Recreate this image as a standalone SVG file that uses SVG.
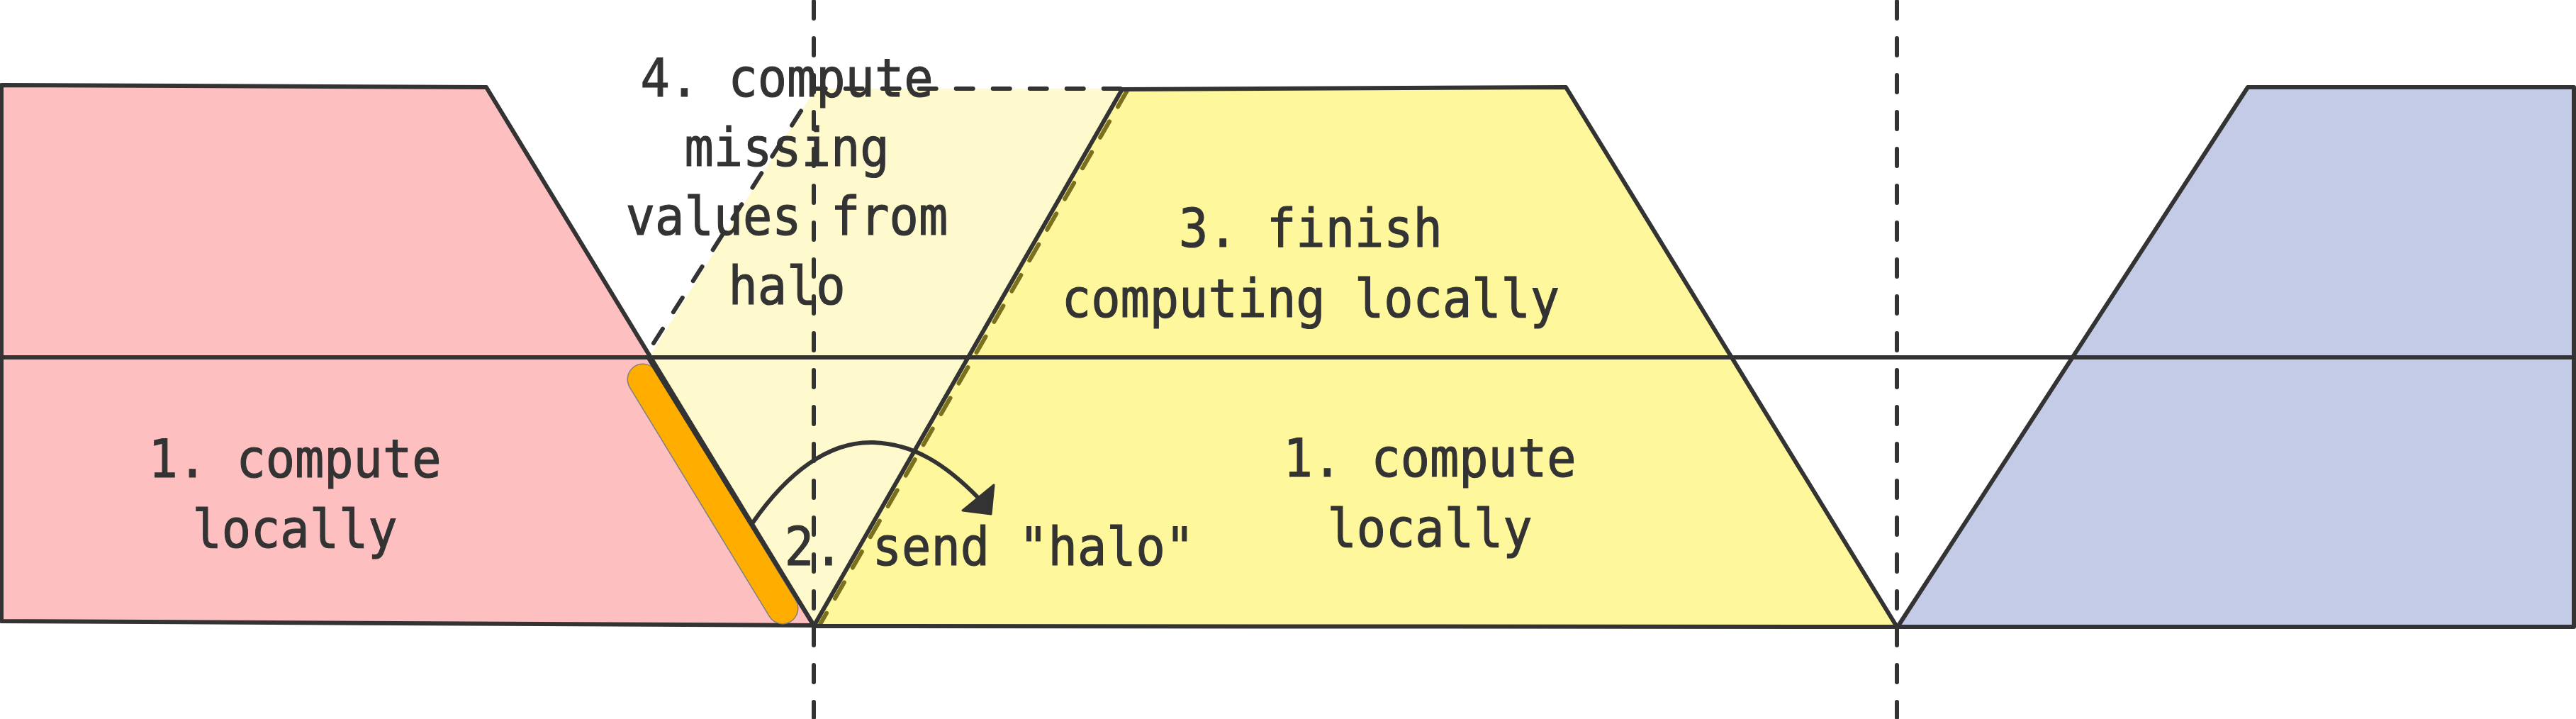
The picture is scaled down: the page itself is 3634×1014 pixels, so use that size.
<svg xmlns="http://www.w3.org/2000/svg" width="3634" height="1014" viewBox="0 0 3634 1014">
<style>
.edge{stroke:#333;stroke-width:6;stroke-linejoin:round;fill:none}
.dash{stroke:#333;stroke-width:6;stroke-linecap:round;stroke-dasharray:24 28;fill:none}
.lbl{font-family:"DejaVu Sans Mono","Liberation Mono",monospace;font-size:75px;fill:#333;stroke:#333;stroke-width:1.2;text-anchor:middle}
</style>
<rect width="3634" height="1014" fill="#ffffff"/>
<g id="halo-region">
<polygon points="1150,125 1583,125 1148,882 915,505" fill="#FFF9CE"/>
</g>
<g id="yellow-block">
<polygon points="1583,126 2209,123 2676,884 1148,883" fill="#FFF79C"/>
<line x1="1590" y1="128" x2="1156" y2="882" stroke="#7A7020" stroke-width="6" stroke-dasharray="26 24" stroke-linecap="round"/>
<polyline class="edge" points="1583,126 2209,123 2676,884 1148,883"/>
<line class="edge" x1="1583" y1="126" x2="1148" y2="883"/>
</g>
<g id="red-block">
<polygon points="2,120 686,123 1148,882 2,876" fill="#FEBFC0"/>
<polygon class="edge" points="2,120 686,123 1148,882 2,876"/>
</g>
<g id="blue-block">
<polygon points="3171,123 3631,123 3631,884 2677,884" fill="#C4CBE6"/>
<polygon class="edge" points="3171,123 3631,123 3631,884 2677,884"/>
</g>
<g id="halo-strip">
<line x1="907" y1="535" x2="1104" y2="858" stroke="#808080" stroke-width="45" stroke-linecap="round"/>
<line x1="907" y1="535" x2="1104" y2="858" stroke="#FFAE00" stroke-width="42" stroke-linecap="round"/>
<line class="edge" x1="915" y1="505" x2="1148" y2="882"/>
</g>
<g id="divider">
<line class="edge" x1="0" y1="504" x2="3634" y2="504"/>
</g>
<g id="halo-outline">
<polyline class="dash" points="922,484 1150,125 1583,125"/>
</g>
<g id="label-left" transform="translate(416,0) scale(0.915,1)">
<text class="lbl" x="0" y="673">1. compute</text>
<text class="lbl" x="0" y="772">locally</text>
</g>
<g id="label-right" transform="translate(2017,0) scale(0.915,1)">
<text class="lbl" x="0" y="672">1. compute</text>
<text class="lbl" x="0" y="771">locally</text>
</g>
<g id="label-finish" transform="translate(1849,0) scale(0.915,1)">
<text class="lbl" x="0" y="348">3. finish</text>
<text class="lbl" x="0" y="447">computing locally</text>
</g>
<g id="label-missing" transform="translate(1110,0) scale(0.915,1)">
<text class="lbl" x="0" y="136">4. compute</text>
<text class="lbl" x="0" y="234">missing</text>
<text class="lbl" x="0" y="331">values from</text>
<text class="lbl" x="0" y="429">halo</text>
</g>
<g id="label-send" transform="translate(1396,0) scale(0.915,1)">
<text class="lbl" x="0" y="797">2. send "halo"</text>
</g>
<g id="connectors">
<path class="edge" d="M1062,737 C1110,668 1168,622 1232,624 C1290,626 1335,656 1380,702"/>
<polygon points="1402,684 1358,720 1398,725" fill="#333" stroke="#333" stroke-width="3" stroke-linejoin="round"/>
</g>
<g id="boundaries">
<line class="dash" x1="1148" y1="2" x2="1148" y2="1012"/>
<line class="dash" x1="2676" y1="2" x2="2676" y2="1012"/>
</g>
</svg>
